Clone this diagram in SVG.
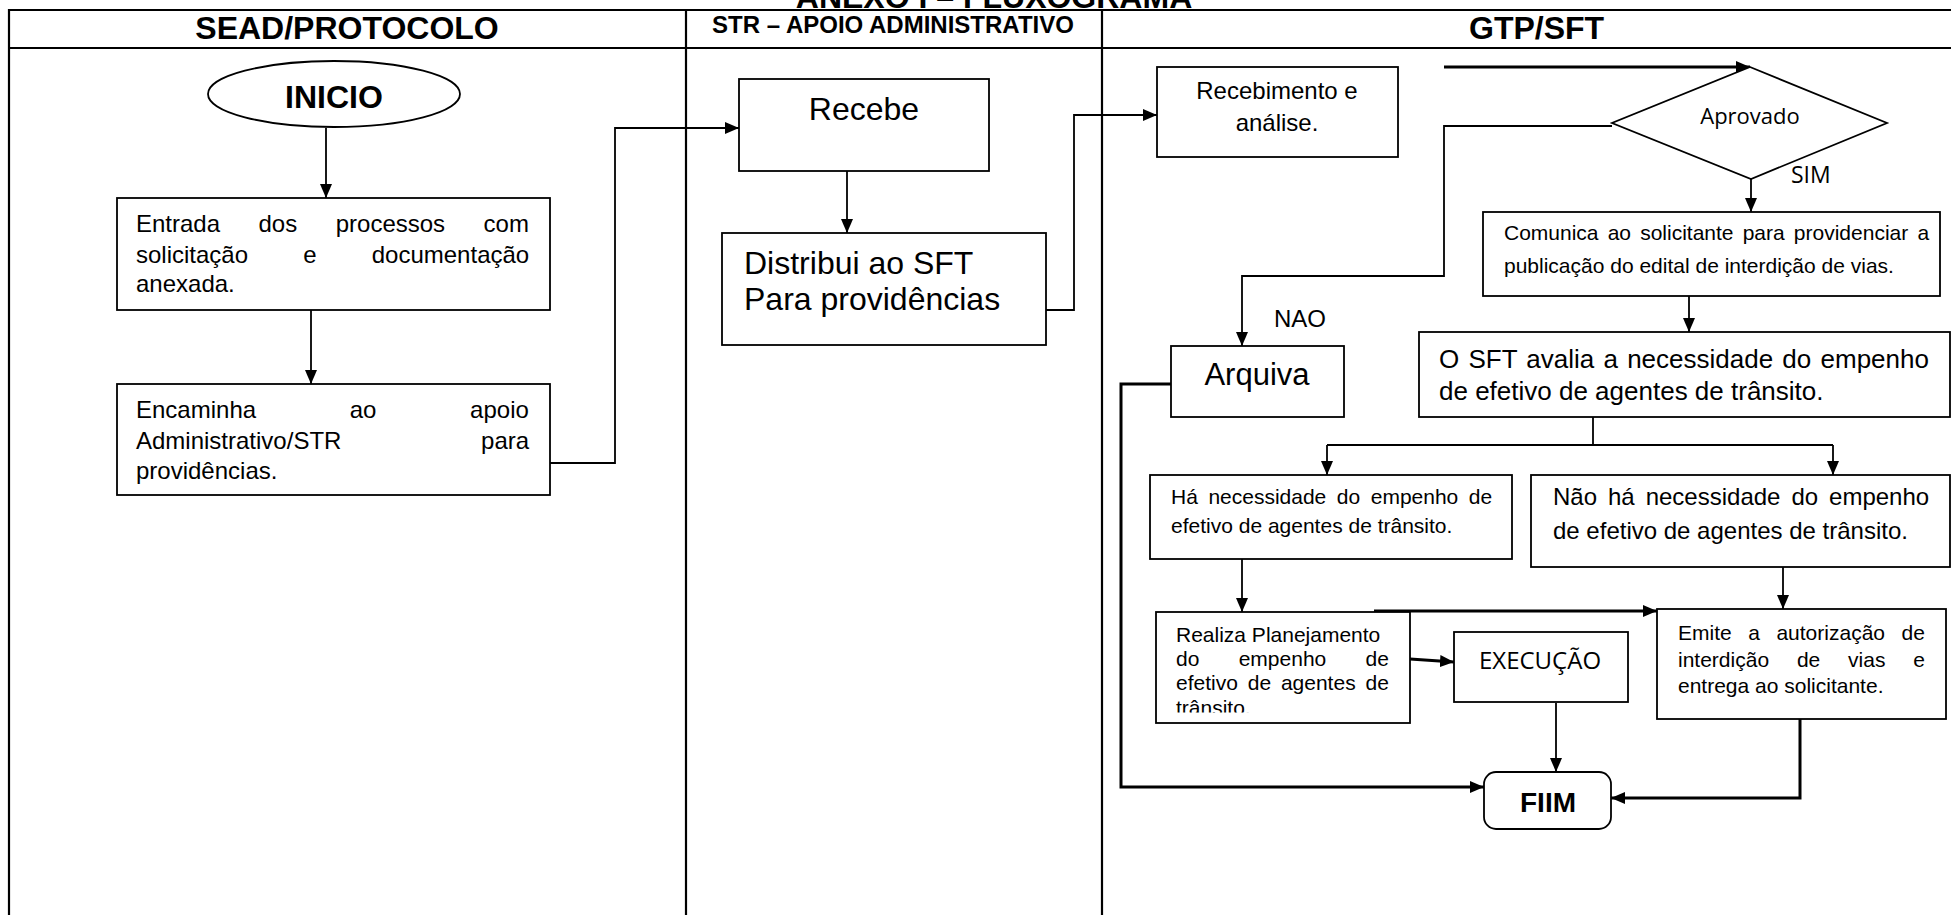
<svg xmlns="http://www.w3.org/2000/svg" width="1951" height="915" viewBox="0 0 1951 915">
<style>
  .frame { stroke: #000; stroke-width: 2.2; fill: none; }
  .box { fill: #fff; stroke: #000; stroke-width: 1.8; }
  .t { font-family: "Liberation Sans", Arial, sans-serif; fill: #000; }
  .b { font-family: "Liberation Sans", Arial, sans-serif; font-weight: bold; fill: #000; }
  .o { font-family: "Open Sans", "Noto Sans", sans-serif; fill: #000; }
  .c { fill: none; stroke: #000; stroke-width: 1.8; }
  .ck { fill: none; stroke: #000; stroke-width: 3; }
  .mid { text-anchor: middle; }
</style>
<defs>
  <marker id="arr" viewBox="0 0 14 12" markerWidth="14" markerHeight="12" refX="14" refY="6" orient="auto" markerUnits="userSpaceOnUse">
    <path d="M0,0 L14,6 L0,12 z" fill="#000"/>
  </marker>
  <clipPath id="clipRealiza">
    <rect x="1156" y="612" width="254" height="100.5"/>
  </clipPath>
</defs>
<rect x="0" y="0" width="1951" height="915" fill="#fff"/>

<g id="title">
  <text class="b mid" x="994" y="7.5" font-size="32">ANEXO I – FLUXOGRAMA</text>
</g>

<g id="frame">
  <line class="frame" x1="9" y1="10" x2="1951" y2="10"/>
  <line class="frame" x1="9" y1="48" x2="1951" y2="48"/>
  <line class="frame" x1="9" y1="9" x2="9" y2="915"/>
  <line class="frame" x1="686" y1="10" x2="686" y2="915" stroke-width="2"/>
  <line class="frame" x1="1102" y1="10" x2="1102" y2="915" stroke-width="2"/>
  <text class="b mid" x="347" y="39" font-size="32">SEAD/PROTOCOLO</text>
  <text class="b mid" x="893" y="33" font-size="24">STR – APOIO ADMINISTRATIVO</text>
  <text class="b" x="1469" y="39" font-size="32">GTP/SFT</text>
</g>

<g id="connectors">
  <path class="c" d="M326,128 V198" marker-end="url(#arr)"/>
  <path class="c" d="M311,310 V384" marker-end="url(#arr)"/>
  <path class="c" d="M550,463 H615 V128 H739" marker-end="url(#arr)"/>
  <path class="c" d="M847,171 V233" marker-end="url(#arr)"/>
  <path class="c" d="M1046,310 H1074 V115 H1157" marker-end="url(#arr)"/>
  <path class="ck" d="M1444,67 H1750" marker-end="url(#arr)"/>
  <path class="c" d="M1612,126 H1444 V276 H1242 V346" marker-end="url(#arr)"/>
  <path class="c" d="M1751,179 V212" marker-end="url(#arr)"/>
  <path class="c" d="M1689,296 V332" marker-end="url(#arr)"/>
  <path class="c" d="M1593,417 V445"/>
  <path class="c" d="M1327,445 H1833"/>
  <path class="c" d="M1327,445 V475" marker-end="url(#arr)"/>
  <path class="c" d="M1833,445 V475" marker-end="url(#arr)"/>
  <path class="c" d="M1242,559 V612" marker-end="url(#arr)"/>
  <path class="c" d="M1783,567 V609" marker-end="url(#arr)"/>
  <path class="ck" d="M1374,611 H1657" marker-end="url(#arr)"/>
  <path class="ck" d="M1410,659 L1454,662" marker-end="url(#arr)"/>
  <path class="c" d="M1556,703 V772" marker-end="url(#arr)"/>
  <path class="ck" d="M1800,719 V798 H1611" marker-end="url(#arr)"/>
  <path class="ck" d="M1171,384 H1121 V787 H1484" marker-end="url(#arr)"/>
</g>

<g id="inicio">
  <ellipse cx="334" cy="94" rx="126" ry="33" fill="#fff" stroke="#000" stroke-width="1.8"/>
  <text class="b mid" x="334" y="108" font-size="32">INICIO</text>
</g>

<g id="entrada">
  <rect class="box" x="117" y="198" width="433" height="112"/>
  <text class="t" x="136" y="232" font-size="24" word-spacing="31.8">Entrada dos processos com</text>
  <text class="t" x="136" y="263" font-size="24" word-spacing="48.5">solicitação e documentação</text>
  <text class="t" x="136" y="292" font-size="24">anexada.</text>
</g>

<g id="encaminha">
  <rect class="box" x="117" y="384" width="433" height="111"/>
  <text class="t" x="136" y="418" font-size="24" word-spacing="87">Encaminha ao apoio</text>
  <text class="t" x="136" y="449" font-size="24" word-spacing="133">Administrativo/STR para</text>
  <text class="t" x="136" y="479" font-size="24">providências.</text>
</g>

<g id="recebe">
  <rect class="box" x="739" y="79" width="250" height="92"/>
  <text class="t mid" x="864" y="120" font-size="32">Recebe</text>
</g>

<g id="distribui">
  <rect class="box" x="722" y="233" width="324" height="112"/>
  <text class="t" x="744" y="274" font-size="32">Distribui ao SFT</text>
  <text class="t" x="744" y="310" font-size="32">Para providências</text>
</g>

<g id="recebimento">
  <rect class="box" x="1157" y="67" width="241" height="90"/>
  <text class="t mid" x="1277" y="99" font-size="24">Recebimento e</text>
  <text class="t mid" x="1277" y="131" font-size="24">análise.</text>
</g>

<g id="aprovado">
  <polygon points="1750,67 1887,123 1751,179 1612,123" fill="#fff" stroke="#000" stroke-width="1.8"/>
  <text class="o mid" x="1750" y="124" font-size="22">Aprovado</text>
</g>

<g id="labels">
  <text class="o" x="1791" y="183" font-size="23">SIM</text>
  <text class="t" x="1274" y="327" font-size="24">NAO</text>
</g>

<g id="comunica">
  <rect class="box" x="1483" y="212" width="457" height="84"/>
  <text class="t" x="1504" y="240" font-size="21" word-spacing="3.3">Comunica ao solicitante para providenciar a</text>
  <text class="t" x="1504" y="273" font-size="21">publicação do edital de interdição de vias.</text>
</g>

<g id="avalia">
  <rect class="box" x="1419" y="332" width="531" height="85"/>
  <text class="t" x="1439" y="368" font-size="26" word-spacing="2">O SFT avalia a necessidade do empenho</text>
  <text class="t" x="1439" y="400" font-size="26">de efetivo de agentes de trânsito.</text>
</g>

<g id="arquiva">
  <rect class="box" x="1171" y="346" width="173" height="71"/>
  <text class="t mid" x="1257" y="385" font-size="31">Arquiva</text>
</g>

<g id="ha-necessidade">
  <rect class="box" x="1150" y="475" width="362" height="84"/>
  <text class="t" x="1171" y="504" font-size="21" word-spacing="4.7">Há necessidade do empenho de</text>
  <text class="t" x="1171" y="533" font-size="21">efetivo de agentes de trânsito.</text>
</g>

<g id="nao-ha-necessidade">
  <rect class="box" x="1531" y="475" width="419" height="92"/>
  <text class="t" x="1553" y="505" font-size="24" word-spacing="4.3">Não há necessidade do empenho</text>
  <text class="t" x="1553" y="539" font-size="24">de efetivo de agentes de trânsito.</text>
</g>

<g id="realiza">
  <rect class="box" x="1156" y="612" width="254" height="111"/>
  <g clip-path="url(#clipRealiza)">
    <text class="t" x="1176" y="642" font-size="21">Realiza Planejamento</text>
    <text class="t" x="1176" y="666" font-size="21" word-spacing="33.5">do empenho de</text>
    <text class="t" x="1176" y="690" font-size="21" word-spacing="4">efetivo de agentes de</text>
    <text class="t" x="1176" y="715" font-size="21">trânsito.</text>
  </g>
</g>

<g id="execucao">
  <rect class="box" x="1454" y="632" width="174" height="70"/>
  <text class="o mid" x="1540" y="669" font-size="24">EXECUÇÃO</text>
</g>

<g id="emite">
  <rect class="box" x="1657" y="609" width="289" height="110"/>
  <text class="t" x="1678" y="640" font-size="21" word-spacing="10.7">Emite a autorização de</text>
  <text class="t" x="1678" y="667" font-size="21" word-spacing="22">interdição de vias e</text>
  <text class="t" x="1678" y="693" font-size="21">entrega ao solicitante.</text>
</g>

<g id="fim">
  <rect class="box" x="1484" y="772" width="127" height="57" rx="12" ry="12"/>
  <text class="b mid" x="1548" y="812" font-size="28">FIIM</text>
</g>
</svg>
